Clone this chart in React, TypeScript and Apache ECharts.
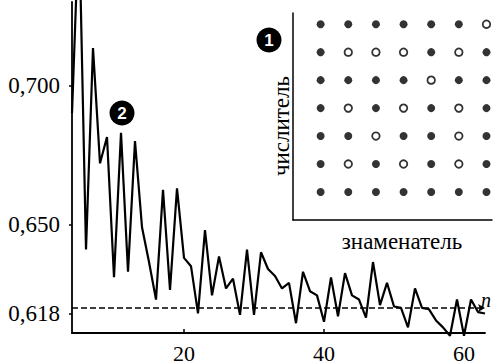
import React, { useEffect, useRef } from "react";
import * as echarts from "echarts";

// n (upper bound) and the share of irreducible fractions
const N_VALUES = [
  4, 5, 6, 7, 8, 9, 10, 11, 12, 13, 14, 15, 16, 17, 18, 19, 20, 21, 22, 23,
  24, 25, 26, 27, 28, 29, 30, 31, 32, 33, 34, 35, 36, 37, 38, 39, 40, 41, 42, 43,
  44, 45, 46, 47, 48, 49, 50, 51, 52, 53, 54, 55, 56, 57, 58, 59, 60, 61, 62, 63,
];
const RATIO_VALUES = [
  0.69, 0.76, 0.641, 0.7135, 0.672, 0.6815, 0.631, 0.683, 0.633, 0.68, 0.649, 0.6365,
  0.623, 0.6625, 0.6265, 0.663, 0.638, 0.635, 0.618, 0.648, 0.6245, 0.6385, 0.627,
  0.6305, 0.6175, 0.641, 0.6175, 0.64, 0.634, 0.6315, 0.627, 0.629, 0.6145, 0.633,
  0.626, 0.6245, 0.615, 0.631, 0.617, 0.6325, 0.6245, 0.623, 0.6165, 0.6365, 0.621,
  0.629, 0.6205, 0.62, 0.613, 0.627, 0.62, 0.6195, 0.6155, 0.613, 0.61, 0.623, 0.61,
  0.623, 0.6185, 0.618,
];
const LIMIT_VALUE = 0.618;
const Y_TICKS = [0.618, 0.65, 0.7];
const X_TICKS = [20, 40, 60];

// inset: rows = numerators 7..1 (top to bottom), cols = denominators 1..7; 1 = filled dot, 0 = open circle
const NUMERATORS = [7, 6, 5, 4, 3, 2, 1];
const DENOMINATORS = [1, 2, 3, 4, 5, 6, 7];
const DOT_ROWS = [
  "1111110",
  "1000101",
  "1111011",
  "1010101",
  "1101101",
  "1010101",
  "1111111",
];

const SERIF = "Liberation Serif";

export default function App() {
  const ref = useRef<HTMLDivElement>(null);

  useEffect(() => {
    document.body.style.margin = "0";
    const chart = echarts.init(ref.current!, null, { renderer: "svg" });

    const lineData = N_VALUES.map((n, i) => [n, RATIO_VALUES[i]]);
    const filled: number[][] = [];
    const open: number[][] = [];
    NUMERATORS.forEach((num, r) => {
      DENOMINATORS.forEach((den, c) => {
        if (DOT_ROWS[r][c] === "1") filled.push([den, num]);
        else open.push([den, num]);
      });
    });

    // y pixel mapping: 0.700 at y=85.5, 2780 px per unit
    const pxPerUnit = 2780;
    const gridTop = 2;
    const gridBottomY = 333;
    const yMax = 0.7 + (85.5 - gridTop) / pxPerUnit;
    const yMin = 0.7 - (gridBottomY - 85.5) / pxPerUnit;

    const axisLine = { show: true, onZero: false, lineStyle: { color: "#000", width: 1.8 } };

    const option: any = {
      animation: false,
      backgroundColor: "#fff",
      textStyle: { fontFamily: SERIF, color: "#000" },
      grid: [
        { left: 72, top: gridTop, width: 413, height: gridBottomY - gridTop, outerBoundsMode: "none" },
        { left: 293, top: 13, width: 199, height: 207, outerBoundsMode: "none" },
      ],
      xAxis: [
        {
          type: "value",
          gridIndex: 0,
          position: "bottom",
          min: 4,
          max: 63,
          z: 5,
          axisLine,
          axisTick: { show: true, inside: true, length: 4, customValues: X_TICKS, lineStyle: { color: "#000", width: 1.5 } },
          axisLabel: {
            show: true,
            customValues: X_TICKS,
            fontSize: 22,
            lineHeight: 20,
            fontFamily: SERIF,
            color: "#000",
            margin: 10,
          },
          splitLine: { show: false },
        },
        {
          type: "value",
          gridIndex: 1,
          min: 0,
          max: 7.2,
          axisLine: { show: true, onZero: false, lineStyle: { color: "#000", width: 1.5 } },
          axisTick: { show: false },
          axisLabel: { show: false },
          splitLine: { show: false },
        },
      ],
      yAxis: [
        {
          type: "value",
          gridIndex: 0,
          position: "left",
          min: yMin,
          max: yMax,
          z: 5,
          axisLine,
          axisTick: { show: true, length: 3, customValues: Y_TICKS, lineStyle: { color: "#000", width: 1.5 } },
          axisLabel: {
            show: true,
            customValues: Y_TICKS,
            fontSize: 23,
            fontFamily: SERIF,
            color: "#000",
            margin: 12,
            formatter: (v: number) => v.toFixed(3).replace(".", ","),
          },
          splitLine: { show: false },
        },
        {
          type: "value",
          gridIndex: 1,
          min: 0,
          max: 7.4,
          axisLine: { show: true, onZero: false, lineStyle: { color: "#000", width: 1.5 } },
          axisTick: { show: false },
          axisLabel: { show: false },
          splitLine: { show: false },
        },
      ],
      series: [
        {
          type: "line",
          xAxisIndex: 0,
          yAxisIndex: 0,
          data: lineData,
          clip: false,
          showSymbol: false,
          symbol: "none",
          lineStyle: { color: "#000", width: 2.2 },
          markLine: {
            silent: true,
            symbol: ["none", "arrow"],
            symbolSize: [6, 7],
            label: { show: false },
            lineStyle: { color: "#000", width: 1.5, type: [6, 3] },
            data: [{ yAxis: LIMIT_VALUE }],
          },
        },
        {
          type: "scatter",
          xAxisIndex: 1,
          yAxisIndex: 1,
          data: filled,
          symbol: "circle",
          symbolSize: 8,
          itemStyle: { color: "#000" },
        },
        {
          type: "scatter",
          xAxisIndex: 1,
          yAxisIndex: 1,
          data: open,
          symbol: "circle",
          symbolSize: 7.5,
          itemStyle: { color: "#fff", borderColor: "#000", borderWidth: 1.8 },
        },
      ],
      graphic: [
        { type: "circle", shape: { cx: 269, cy: 40, r: 12.5 }, style: { fill: "#000" }, z: 10 },
        {
          type: "text",
          x: 269,
          y: 40.5,
          z: 11,
          style: { text: "1", fill: "#fff", fontSize: 17, fontWeight: "bold", fontFamily: "Liberation Sans", align: "center", verticalAlign: "middle" },
        },
        { type: "circle", shape: { cx: 122, cy: 113, r: 12.5 }, style: { fill: "#000" }, z: 10 },
        {
          type: "text",
          x: 122,
          y: 113.5,
          z: 11,
          style: { text: "2", fill: "#fff", fontSize: 17, fontWeight: "bold", fontFamily: "Liberation Sans", align: "center", verticalAlign: "middle" },
        },
        {
          type: "text",
          x: 281,
          y: 126,
          rotation: Math.PI / 2,
          style: { text: "числитель", fill: "#000", fontSize: 23, fontFamily: SERIF, align: "center", verticalAlign: "middle" },
        },
        {
          type: "text",
          x: 402,
          y: 241,
          style: { text: "знаменатель", fill: "#000", fontSize: 23, fontFamily: SERIF, align: "center", verticalAlign: "middle" },
        },
        {
          type: "text",
          x: 486,
          y: 300,
          style: { text: "n", fill: "#000", fontSize: 20, fontStyle: "italic", fontFamily: SERIF, align: "center", verticalAlign: "middle" },
        },
      ],
    };

    chart.setOption(option);
    return () => chart.dispose();
  }, []);

  return <div ref={ref} style={{ width: 495, height: 364 }} />;
}
